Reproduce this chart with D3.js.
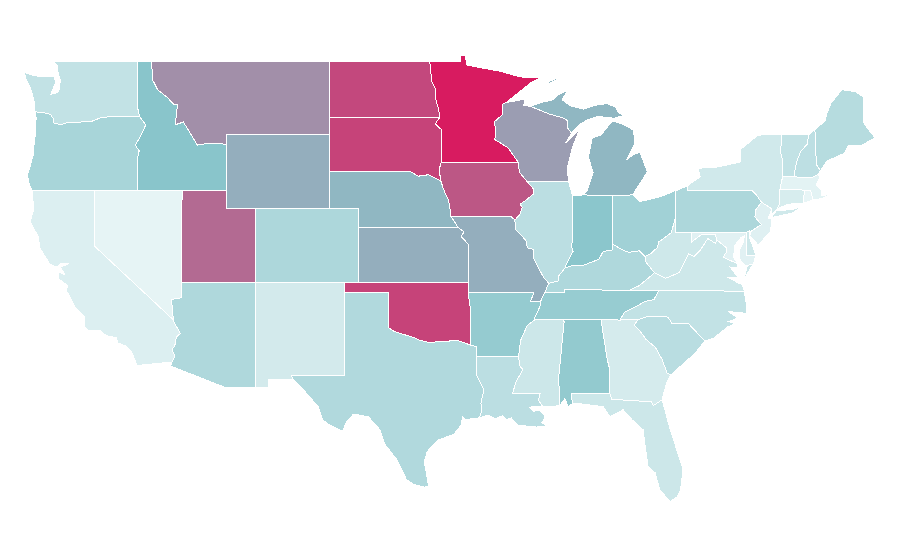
<!DOCTYPE html>
<html>
<head>
<meta charset="utf-8">
<script src="https://cdn.jsdelivr.net/npm/d3@7/dist/d3.min.js"></script>
<style>
  html, body { margin: 0; background: #fff; }
  svg { display: block; }
</style>
</head>
<body>
<svg id="map" width="900" height="560"></svg>
<script>
const stateNames = ["WA","OR","CA","NV","ID","MT","WY","UT","CO","AZ","NM","ND","SD","NE","KS","OK","TX",
  "MN","IA","MO","AR","LA","WI","IL","MI","IN","OH","KY","TN","MS","AL","GA","FL","SC","NC","VA","WV",
  "PA","NY","NJ","DE","MD","CT","RI","MA","VT","NH","ME"];
const stateValues = [16,27,5,1,40,59,48,72,25,24,9,84,86,45,48,86,23,
  100,79,48,35,19,54,19,45,39,30,24,34,12,36,8,12,20,16,11,11,
  25,10,4,11,3,7,0,2,16,18,21];

const colorDomain = [0, 40, 100];
const colorRange = ["#e8f5f6", "#89c5cb", "#d81b60"];

// shared borders, lon/lat
const rv = a => [...a].reverse();
const columbia = [[-116.92,46],[-118.98,46],[-119.3,45.93],[-119.6,45.92],[-120.2,45.73],[-120.65,45.74],[-121.2,45.65],[-121.7,45.7],[-122.25,45.55],[-122.76,45.65],[-122.8,45.9],[-122.95,46.1],[-123.4,46.2],[-123.97,46.25]];
const snake = [[-116.92,46],[-116.75,45.8],[-116.5,45.55],[-116.85,44.95],[-117.2,44.45],[-117.05,44.25],[-116.95,44.15],[-117.03,43.83],[-117.03,42]];
const coloradoR = [[-114.63,35],[-114.57,34.85],[-114.15,34.27],[-114.43,34.05],[-114.53,33.6],[-114.72,33.4],[-114.52,33.03],[-114.72,32.72]];
const idMt = [[-116.1,49],[-116.05,48],[-115.7,47.45],[-115,47],[-114.6,46.65],[-114.35,46.65],[-114.5,45.55],[-113.95,45.7],[-113.45,45.05],[-113,44.45],[-112.3,44.55],[-111.5,44.55],[-111.05,44.48]];
const redNorth = [[-97.23,49],[-97.15,48.4],[-97.1,47.9],[-96.85,47.5],[-96.8,46.9],[-96.6,46.3],[-96.56,45.94]];
const sdMn = [[-96.56,45.94],[-96.85,45.6],[-96.45,45.3],[-96.45,43.5]];
const bigSioux = [[-96.45,43.5],[-96.6,43.1],[-96.45,42.49]];
const sdNe = [[-104.05,43],[-98.5,43],[-98,42.77],[-97.3,42.85],[-96.7,42.6],[-96.45,42.49]];
const neIa = [[-96.45,42.49],[-96.35,42.2],[-96.1,41.7],[-95.95,41.5],[-95.85,41],[-95.77,40.58]];
const neMo = [[-95.77,40.58],[-95.3,40]];
const ksMo = [[-95.3,40],[-94.9,39.75],[-95.1,39.5],[-94.61,39.1],[-94.62,37]];
const redRiver = [[-100,34.56],[-99.7,34.4],[-99.2,34.25],[-98.5,34.1],[-97.9,33.9],[-97.2,33.75],[-96.6,33.85],[-96,33.85],[-95.3,33.88],[-94.48,33.64]];
const sabine = [[-94.04,33.02],[-94.04,32],[-93.55,31.2],[-93.75,30.5],[-93.7,30.1],[-93.85,29.7]];
const mnWi = [[-92.29,46.66],[-92.29,46.1],[-92.85,45.7],[-92.75,45.3],[-92.8,44.75],[-91.9,44.3],[-91.2,43.5]];
const wiIa = [[-91.2,43.5],[-91.15,43],[-90.64,42.5]];
const ilIa = [[-90.64,42.5],[-90.2,42.1],[-90.2,41.8],[-90.65,41.5],[-91.1,41.25],[-90.95,41.1],[-91.1,40.7],[-91.45,40.4]];
const ilMo = [[-91.45,40.4],[-91.4,39.9],[-90.7,39.3],[-90.6,38.9],[-90.15,38.8],[-90.2,38.4],[-89.9,37.9],[-89.5,37.3],[-89.15,36.98]];
const tnMo = [[-89.4,36.5],[-89.7,36]];
const tnAr = [[-89.7,36],[-89.7,35.8],[-90.1,35.1],[-90.1,35]];
const msAr = [[-90.1,35],[-90.6,34.7],[-91.05,33.9],[-91.2,33]];
const msLa = [[-91.2,33],[-91.1,32.5],[-90.9,32.3],[-91.4,31.6],[-91.6,31],[-89.73,31],[-89.85,30.65],[-89.55,30.3]];
const bootheel = [[-89.7,36],[-90.38,36],[-90.15,36.5],[-94.62,36.5]];
const alMs = [[-88.2,35],[-88.1,34.9],[-88.47,31.9],[-88.4,30.35]];
const gaAl = [[-85.6,35],[-85.18,32.87],[-85,32.3],[-85.05,31.55],[-85,31]];
const gaFl = [[-85,31],[-84.86,30.7],[-82.2,30.57],[-82.05,30.36],[-81.45,30.68]];
const ncSc = [[-83.1,35],[-82.4,35.2],[-81.05,35.15],[-80.8,34.82],[-79.67,34.8],[-78.55,33.85]];
const gaSc = [[-83.1,35],[-83.35,34.7],[-83,34.45],[-82.55,33.95],[-81.9,33.5],[-81.45,32.85],[-81.1,32.1],[-80.85,32.03]];
const ncTn = [[-84.32,34.99],[-84,35.4],[-83.1,35.77],[-82.6,36],[-82,36.1],[-81.68,36.59]];
const kyTn = [[-83.68,36.6],[-86.5,36.62],[-88.07,36.62],[-88.07,36.5],[-89.4,36.5]];
const kyVa = [[-83.68,36.6],[-83,36.85],[-81.97,37.54]];
const kyWv = [[-81.97,37.54],[-82.6,38.17],[-82.6,38.42]];
const ohRivOh = [[-82.6,38.42],[-83,38.73],[-83.7,38.65],[-84.2,38.8],[-84.82,39.1]];
const ohRivIn = [[-84.82,39.1],[-84.85,38.78],[-85.45,38.7],[-85.75,38.27],[-86.3,38.1],[-86.8,37.95],[-87.55,37.93],[-88.05,37.8]];
const ohRivIl = [[-88.05,37.8],[-88.45,37.4],[-88.5,37.1],[-89.15,36.98]];
const ilIn = [[-87.53,41.7],[-87.53,39.3],[-87.6,39],[-87.5,38.7],[-87.95,38],[-88.05,37.8]];
const ohWv = [[-82.6,38.42],[-82.2,38.6],[-81.75,38.93],[-81.7,39.2],[-80.85,39.7],[-80.65,40.2],[-80.52,40.64]];
const vaWv = [[-81.97,37.54],[-81.2,37.25],[-80.3,37.55],[-79.65,38.58],[-79.3,38.42],[-78.85,38.77],[-78.35,39.4],[-77.83,39.13],[-77.72,39.32]];
const mdWv = [[-79.48,39.72],[-79.48,39.2],[-78.8,39.6],[-78.4,39.62],[-77.85,39.6],[-77.72,39.32]];
const potomac = [[-77.72,39.32],[-77.1,38.9],[-77.05,38.7],[-77.3,38.4],[-76.95,38.25],[-76.35,38.05]];
const njPa = [[-74.7,41.36],[-75.1,40.95],[-75.15,40.57],[-74.72,40.15],[-75.4,39.8]];
const nyPaE = [[-75.35,42],[-75.05,41.75],[-74.7,41.36]];
const nyVt = [[-73.35,45],[-73.4,44],[-73.25,43.6],[-73.27,42.75]];
const ctNy = [[-73.45,42.05],[-73.45,41.3],[-73.65,41]];
const vtNh = [[-71.5,45],[-71.6,44.5],[-72.05,44.1],[-72.3,43.6],[-72.45,43],[-72.46,42.73]];
const wiMi = [[-90.4,46.55],[-89.1,46.13],[-88.1,45.9],[-87.85,45.75],[-87.85,45.35],[-87.6,45.1]];

const stateRings = {
  WA: [[[-122.76,49],[-117.03,49],[-117.04,46.42],[-116.92,46],...columbia.slice(1),[-124.05,46.27],[-124.05,46.65],[-124.1,46.9],[-124.2,47.2],[-124.42,47.7],[-124.65,48.05],[-124.73,48.38],[-124.1,48.22],[-123.7,48.16],[-123.15,48.15],[-122.75,48.15],[-122.6,47.9],[-122.75,47.6],[-122.95,47.2],[-122.6,47.25],[-122.4,47.4],[-122.35,47.7],[-122.3,47.95],[-122.45,48.3],[-122.5,48.75]]],
  OR: [[...rv(columbia),...snake,[-124.21,42],[-124.4,42.3],[-124.55,42.84],[-124.35,43.3],[-124.15,43.9],[-124.07,44.6],[-123.97,45.2],[-123.95,45.9]]],
  CA: [[[-124.21,42],[-120,42],[-120,39],...coloradoR,[-117.12,32.53],[-117.25,32.85],[-117.45,33.25],[-117.9,33.6],[-118.4,33.75],[-118.5,34.03],[-119.2,34.15],[-119.6,34.42],[-120.47,34.45],[-120.65,34.6],[-120.65,35.15],[-121.3,35.7],[-121.9,36.6],[-121.8,36.85],[-122.4,37.2],[-122.45,37.6],[-122,37.45],[-122.3,37.85],[-121.7,38.05],[-122.3,38.05],[-122.5,37.85],[-123,38],[-123.7,38.9],[-123.8,39.5],[-124.35,40.3],[-124.1,41],[-124.2,41.75]]],
  NV: [[[-120,42],[-114.04,42],[-114.05,36.2],[-114.75,36.1],[-114.63,35],[-120,39]]],
  ID: [[[-117.03,49],...idMt,[-111.05,42],...rv(snake),[-117.04,46.42]]],
  MT: [[...idMt,[-111.05,45],[-104.05,45],[-104.05,49]]],
  WY: [[[-111.05,45],[-104.05,45],[-104.05,41],[-111.05,41]]],
  UT: [[[-114.04,42],[-111.05,42],[-111.05,41],[-109.05,41],[-109.05,37],[-114.05,37]]],
  CO: [[[-109.05,41],[-102.05,41],[-102.05,37],[-109.05,37]]],
  AZ: [[[-114.05,37],[-109.05,37],[-109.05,31.33],[-111.07,31.33],[-114.81,32.5],...rv(coloradoR),[-114.75,36.1],[-114.05,36.2]]],
  NM: [[[-109.05,37],[-103,37],[-103.04,32],[-106.62,32],[-106.53,31.78],[-108.2,31.78],[-108.2,31.33],[-109.05,31.33]]],
  ND: [[[-104.05,49],...redNorth,[-104.05,45.94]]],
  SD: [[[-104.05,45.94],...sdMn,...bigSioux.slice(1),...rv(sdNe).slice(1),[-104.05,45]]],
  NE: [[...sdNe,...neIa.slice(1),...neMo.slice(1),[-102.05,40],[-102.05,41],[-104.05,41]]],
  KS: [[[-102.05,40],...ksMo,[-102.05,37]]],
  OK: [[[-103,37],[-94.62,37],[-94.43,35.4],...rv(redRiver),[-100,36.5],[-103,36.5]]],
  TX: [[[-103,36.5],[-100,36.5],...redRiver,[-94.04,33.55],...sabine,[-94.8,29.6],[-95,29.76],[-95.1,29.3],[-95.6,28.8],[-96.65,28.5],[-97.4,27.87],[-97.6,27.3],[-97.5,26.9],[-97.3,26],[-97.6,25.95],[-98.3,26.1],[-98.8,26.35],[-99.45,27.43],[-100.3,28.3],[-100.6,29.05],[-101.4,29.76],[-102.4,29.9],[-102.85,29.5],[-103.15,28.98],[-104,29.3],[-104.5,29.6],[-104.8,30.3],[-106,31.4],[-106.53,31.78],[-106.62,32],[-103.04,32]]],
  MN: [[...redNorth,...sdMn.slice(1),[-91.2,43.5],...rv(mnWi).slice(1),[-92.05,46.75],[-90.4,47.8],[-89.75,48.08],[-91.1,48.14],[-92.45,48.45],[-93.67,48.62],[-94.7,48.78],[-94.83,49.32],[-95.1,49.32],[-95.15,49]]],
  IA: [[[-96.45,43.5],...wiIa,...ilIa.slice(1),[-91.72,40.6],[-95.77,40.58],...rv(neIa).slice(1),...rv(bigSioux).slice(1)]],
  MO: [[[-95.77,40.58],[-91.72,40.6],...ilMo,[-89.4,36.5],...tnMo.slice(1),...bootheel.slice(1),...rv(ksMo)]],
  AR: [[...bootheel,[-94.43,35.4],[-94.48,33.64],[-94.04,33.55],[-94.04,33.02],...rv(msAr),...rv(tnAr).slice(1)]],
  LA: [[...msLa,[-89.95,30.3],[-90.45,30.28],[-90.2,30.05],[-89.8,30.1],[-89.6,30],[-89.4,29.75],[-89.6,29.45],[-89.2,29.15],[-89.5,29.25],[-90,29.2],[-90.6,29.25],[-91.2,29.3],[-91.7,29.7],[-92.05,29.6],[-92.3,29.8],[-92.8,29.65],[-93.3,29.85],...rv(sabine)]],
  WI: [[[-92.29,46.66],[-92.05,46.75],[-91.2,46.87],[-90.75,46.95],[-90.85,46.6],...wiMi,[-88,44.55],[-87.05,45.3],[-87.55,44.3],[-87.9,43.2],[-87.8,42.5],...rv(wiIa),...rv(mnWi).slice(1)]],
  IL: [[[-90.64,42.5],[-87.8,42.5],[-87.55,41.75],...ilIn,...ohRivIl.slice(1),...rv(ilMo).slice(1),...rv(ilIa).slice(1)]],
  MI: [
    [...wiMi,[-87,45.6],[-86.55,45.8],[-85.8,46],[-84.7,45.9],[-84.1,46.05],[-84.45,46.24],[-84.6,46.5],[-85.2,46.7],[-86,46.6],[-86.8,46.4],[-87.6,46.55],[-88.25,46.9],[-87.84,47.43],[-88.5,47.16],[-88.85,46.9],[-89.55,46.78]],
    [[-84.78,45.75],[-84.2,45.6],[-83.4,45.27],[-83.3,44.55],[-83.85,43.65],[-83.4,43.95],[-82.95,44.05],[-82.45,43],[-83.1,42.2],[-83.45,41.76],[-84.8,41.7],[-86.8,41.76],[-86.55,41.95],[-86.13,42.95],[-86.45,43.8],[-86.2,44.84],[-85.6,45],[-85,45.6]],
    [[-89.2,47.86],[-88.6,48.08],[-88.55,48],[-89.1,47.78]]
  ],
  IN: [[[-87.53,41.7],[-86.8,41.76],[-84.8,41.7],[-84.82,39.1],...ohRivIn.slice(1),...rv(ilIn).slice(1)]],
  OH: [[[-84.8,41.7],[-83.45,41.76],[-82.95,41.4],[-81.6,41.65],[-80.52,42],...rv(ohWv),...ohRivOh.slice(1)]],
  KY: [[...kyTn,[-89.15,36.98],...rv(ohRivIl).slice(1),...rv(ohRivIn).slice(1),...rv(ohRivOh).slice(1),...rv(kyWv).slice(1),...rv(kyVa).slice(1)]],
  TN: [[[-90.1,35],[-88.2,35],[-85.6,35],...ncTn,...kyTn,...tnMo.slice(1),...tnAr.slice(1)]],
  MS: [[[-90.1,35],...msAr.slice(1),...msLa.slice(1),...rv(alMs)]],
  AL: [[[-88.2,35],[-85.6,35],...gaAl.slice(1),[-87.6,31],[-87.55,30.45],[-87.85,30.3],[-88.05,30.75],...rv(alMs)]],
  GA: [[[-85.6,35],[-84.32,34.99],[-83.1,35],...gaSc.slice(1),[-81.15,31.6],...rv(gaFl),...rv(gaAl).slice(1)]],
  FL: [[[-87.6,31],...gaFl,[-80.9,29.05],[-80.55,28.2],[-80.03,26.9],[-80.2,25.8],[-80.44,25.43],[-80.9,25.16],[-81.6,25.8],[-81.93,26.73],[-82.4,27.06],[-82.6,28.14],[-82.74,29.05],[-83.5,29.6],[-84.1,30.14],[-84.98,29.76],[-85.46,30.3],[-86.9,30.45],[-87.55,30.45]]],
  SC: [[...ncSc,[-79.2,33.2],[-79.9,32.7],...rv(gaSc)]],
  NC: [[...ncTn,[-75.87,36.55],[-75.72,35.8],[-75.72,35.35],[-76.95,35.45],[-76.3,35.1],[-76.95,34.9],[-76.5,34.8],[-77.04,34.6],[-77.95,34],...rv(ncSc)]],
  VA: [
    [[-83.68,36.6],[-81.68,36.59],[-75.87,36.55],[-76,36.9],[-76.3,37],[-76.97,37.3],[-76.3,37.3],[-76.84,37.86],[-76.35,37.8],...rv(potomac),...rv(vaWv).slice(1),...rv(kyVa).slice(1)],
    [[-75.96,37.05],[-75.6,37.6],[-75.25,38.03],[-75.65,37.95]]
  ],
  WV: [[...kyWv,...ohWv.slice(1),[-80.52,39.72],...mdWv,...rv(vaWv).slice(1)]],
  PA: [[[-80.52,41.98],[-79.76,42.24],[-79.76,42],[-75.35,42],...nyPaE.slice(1),...njPa.slice(1),[-75.55,39.8],[-75.75,39.72],[-80.52,39.72]]],
  NY: [
    [[-79.76,42.24],[-78.87,42.73],[-79,43.2],[-77.65,43.27],[-76.15,43.54],[-76.15,44.2],[-75,44.95],[-74.7,45],...nyVt,[-73.45,42.05],...ctNy.slice(1),[-74,40.7],[-74,41],...rv(nyPaE),[-79.76,42]],
    [[-74,40.6],[-73.7,40.9],[-72.6,40.97],[-72.1,41.1],[-72.5,40.8],[-73.9,40.55]]
  ],
  NJ: [[[-74.7,41.36],[-74,41],[-74.25,40.5],[-74,40.45],[-74.1,39.75],[-74.94,39.05],[-75.1,39.2],[-75.5,39.55],...rv(njPa)]],
  DE: [[[-75.75,39.72],[-75.55,39.8],[-75.55,39.5],[-75.28,38.95],[-75.1,38.5],[-75.7,38.46]]],
  MD: [[[-79.48,39.72],[-75.75,39.72],[-75.7,38.46],[-75.1,38.5],[-75.25,38.03],[-75.65,37.95],[-75.85,37.95],[-76.2,38.3],[-76.2,38.8],[-75.95,39.2],[-75.85,39.55],[-76.1,39.45],[-76.5,39.05],[-76.6,38.4],...rv(potomac),...rv(mdWv).slice(1)]],
  CT: [[[-73.45,42.05],[-71.8,42.02],[-71.85,41.32],[-72.9,41.25],...rv(ctNy)]],
  RI: [[[-71.8,42.02],[-71.38,42.02],[-71.2,41.5],[-71.5,41.4],[-71.85,41.32]]],
  MA: [[[-73.45,42.05],[-73.27,42.75],[-72.46,42.73],[-71.3,42.7],[-70.85,42.87],[-70.73,42.73],[-71,42.3],[-70.65,42.03],[-70.6,41.72],[-70.05,41.78],[-70.6,41.55],[-71.2,41.5],[-71.38,42.02],[-71.8,42.02]]],
  VT: [[...nyVt,...rv(vtNh)]],
  NH: [[...vtNh,[-71.3,42.7],[-70.85,42.87],[-70.7,43.07],[-70.98,43.4],[-71.08,45.3]]],
  ME: [[[-71.08,45.3],[-70.4,45.75],[-70.25,46.2],[-70,46.7],[-69.25,47.45],[-68.35,47.35],[-67.8,47.07],[-67.8,45.7],[-67.45,45.3],[-67,44.85],[-68,44.4],[-68.8,44.45],[-69.1,44],[-69.8,43.75],[-70.25,43.6],[-70.7,43.07],[-70.98,43.4]]]
};

const x = d3.scaleLinear().domain([-124.7, -67]).range([25, 875]);
const y = d3.scaleLinear().domain([49, 25.85]).range([61, 489]);
const color = d3.scaleLinear().domain(colorDomain).range(colorRange);

const path = d3.geoPath().projection(d3.geoTransform({
  point(lon, lat) { this.stream.point(x(lon), y(lat)); }
}));

const features = stateNames.map((name, i) => ({
  type: "Feature",
  properties: { name, value: stateValues[i] },
  geometry: { type: "MultiPolygon", coordinates: stateRings[name].map(r => [[...r, r[0]]]) }
}));

d3.select("#map").selectAll("path")
  .data(features)
  .join("path")
  .attr("d", path)
  .attr("fill", d => color(d.properties.value))
  .attr("stroke", "#fff")
  .attr("stroke-width", 1)
  .attr("shape-rendering", "crispEdges");
</script>
</body>
</html>
